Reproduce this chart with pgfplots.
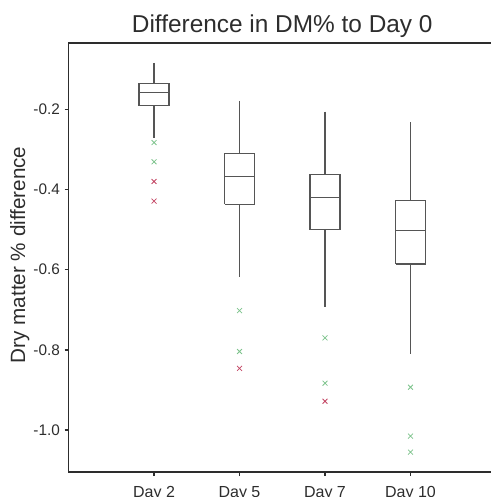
\documentclass[border=0pt]{standalone}
\usepackage{fontspec}
\setmainfont{Liberation Sans}
\usepackage{pgfplots}
\pgfplotsset{compat=1.18}
\definecolor{boxgray}{RGB}{85,85,85}
\definecolor{axisgray}{RGB}{45,45,45}
\definecolor{outgreen}{RGB}{125,195,140}
\definecolor{outred}{RGB}{195,70,100}

% 1px of the reference = 0.75pt
% each box: whisker, box (half width 0.175), median, whisker; nan = pen up
\begin{document}
\begin{tikzpicture}
\begin{axis}[
  scale only axis,
  width=320.6pt, height=321.75pt,
  xmin=0, xmax=5,
  ymin=-1.1045, ymax=-0.0347,
  unbounded coords=jump,
  axis line style={axisgray, line width=1.1pt},
  every tick/.style={axisgray, line width=1.1pt},
  tick align=outside,
  xtick pos=bottom, ytick pos=left,
  major tick length=3pt,
  xtick={1,2,3,4},
  xticklabels={Day 2,Day 5,Day 7,Day 10},
  ytick={-1.0,-0.8,-0.6,-0.4,-0.2},
  yticklabel style={font=\fontsize{11.5}{13}\selectfont, text=axisgray,
    /pgf/number format/.cd, fixed, fixed zerofill, precision=1, assume math mode=true},
  xticklabel style={font=\fontsize{12}{14}\selectfont, text=axisgray, yshift=-4pt},
  title={Difference in DM\% to Day 0},
  title style={font=\fontsize{18.3}{20}\selectfont, text=axisgray,
    at={(rel axis cs:0.5,1)}, anchor=base, yshift=1.5pt},
  ylabel={Dry matter \% difference},
  ylabel style={font=\fontsize{15.5}{17}\selectfont, text=axisgray,
    at={(rel axis cs:0,0.506)}, yshift=32.6pt, anchor=base},
  boxline/.style={boxgray, line width=0.9pt, mark=none, line join=miter},
]
% Day 2
\addplot[boxline] coordinates {
  (1,-0.084) (1,-0.135) (nan,nan)
  (0.825,-0.191) (1.175,-0.191) (1.175,-0.135) (0.825,-0.135) (0.825,-0.191) (nan,nan)
  (0.825,-0.159) (1.175,-0.159) (nan,nan)
  (1,-0.191) (1,-0.272)
};
% Day 5
\addplot[boxline] coordinates {
  (2,-0.179) (2,-0.310) (nan,nan)
  (1.825,-0.437) (2.175,-0.437) (2.175,-0.310) (1.825,-0.310) (1.825,-0.437) (nan,nan)
  (1.825,-0.367) (2.175,-0.367) (nan,nan)
  (2,-0.437) (2,-0.618)
};
% Day 7
\addplot[boxline] coordinates {
  (3,-0.206) (3,-0.362) (nan,nan)
  (2.825,-0.500) (3.175,-0.500) (3.175,-0.362) (2.825,-0.362) (2.825,-0.500) (nan,nan)
  (2.825,-0.419) (3.175,-0.419) (nan,nan)
  (3,-0.500) (3,-0.694)
};
% Day 10
\addplot[boxline] coordinates {
  (4,-0.232) (4,-0.428) (nan,nan)
  (3.825,-0.586) (4.175,-0.586) (4.175,-0.428) (3.825,-0.428) (3.825,-0.586) (nan,nan)
  (3.825,-0.503) (4.175,-0.503) (nan,nan)
  (4,-0.586) (4,-0.810)
};
% outliers
\addplot[only marks, mark=x, mark size=2.6pt, outgreen, line width=0.6pt] coordinates {
  (1,-0.283) (1,-0.331)
  (2,-0.702) (2,-0.804)
  (3,-0.770) (3,-0.883)
  (4,-0.893) (4,-1.015) (4,-1.055)
};
\addplot[only marks, mark=x, mark size=2.6pt, outred, line width=0.6pt] coordinates {
  (1,-0.380) (1,-0.429)
  (2,-0.846)
  (3,-0.928)
};
\coordinate (ll) at (rel axis cs:0,0);
\coordinate (ul) at (rel axis cs:0,1);
\end{axis}
\pgfresetboundingbox
\path ([xshift=-51.4pt,yshift=-18.75pt]ll) rectangle ([xshift=316.1pt,yshift=32.25pt]ul);
\end{tikzpicture}
\end{document}
